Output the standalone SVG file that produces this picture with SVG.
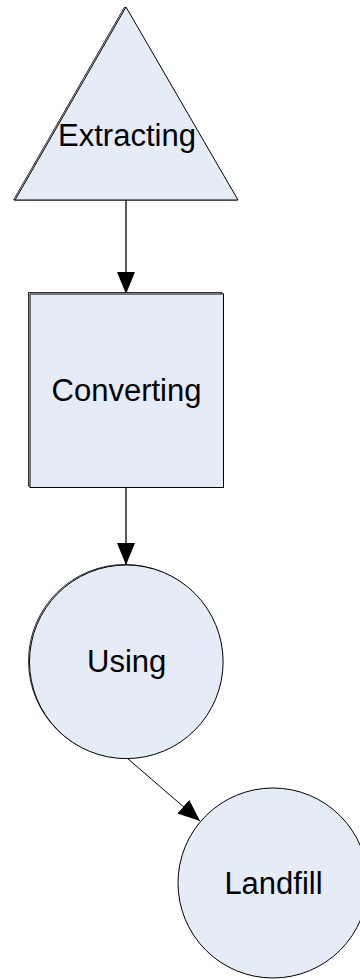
<svg xmlns="http://www.w3.org/2000/svg" width="360" height="979" viewBox="0 0 360 979">
<style>
.shape{fill:#E5EBF7;stroke:#000;stroke-width:1}
.shadow{fill:#E5EBF7;stroke:#333;stroke-width:1}
.lbl{font-family:"Liberation Sans",Arial,sans-serif;font-size:31px;fill:#000;text-anchor:middle}
.conn{stroke:#333;stroke-width:1.6;fill:none}
.thin{stroke:#000;stroke-width:1;fill:none}
</style>
<defs>
<marker id="ah" markerUnits="userSpaceOnUse" markerWidth="24" markerHeight="20" refX="22" refY="9" orient="auto">
<path d="M0,0 L22,9 L0,18 Z" fill="#000"/>
</marker>
</defs>
<rect width="360" height="979" fill="#fff"/>
<g id="connectors">
<line class="conn" x1="126" y1="200" x2="126" y2="294" marker-end="url(#ah)"/>
<line class="conn" x1="126" y1="488" x2="126" y2="565" marker-end="url(#ah)"/>
<line class="thin" x1="127" y1="758" x2="200" y2="821" marker-end="url(#ah)"/>
</g>
<g id="extracting">
<polygon class="shadow" points="124.5,7 13.5,200 236.5,200"/>
<polygon class="shape" points="126,7 15,200 238,200"/>
<text class="lbl" x="127" y="146">Extracting</text>
</g>
<g id="converting">
<rect class="shadow" x="28.5" y="292.5" width="193.5" height="193.5"/>
<rect class="shape" x="30" y="294" width="193.5" height="193.5" stroke="#444"/>
<text class="lbl" x="126.5" y="401">Converting</text>
</g>
<g id="using">
<circle class="shadow" cx="125" cy="661" r="96.5"/>
<circle class="shape" cx="126.3" cy="661.8" r="96.8"/>
<text class="lbl" x="126.7" y="672">Using</text>
</g>
<g id="landfill">
<circle class="shape" cx="273" cy="883" r="95"/>
<text class="lbl" x="273.5" y="894">Landfill</text>
</g>
</svg>
